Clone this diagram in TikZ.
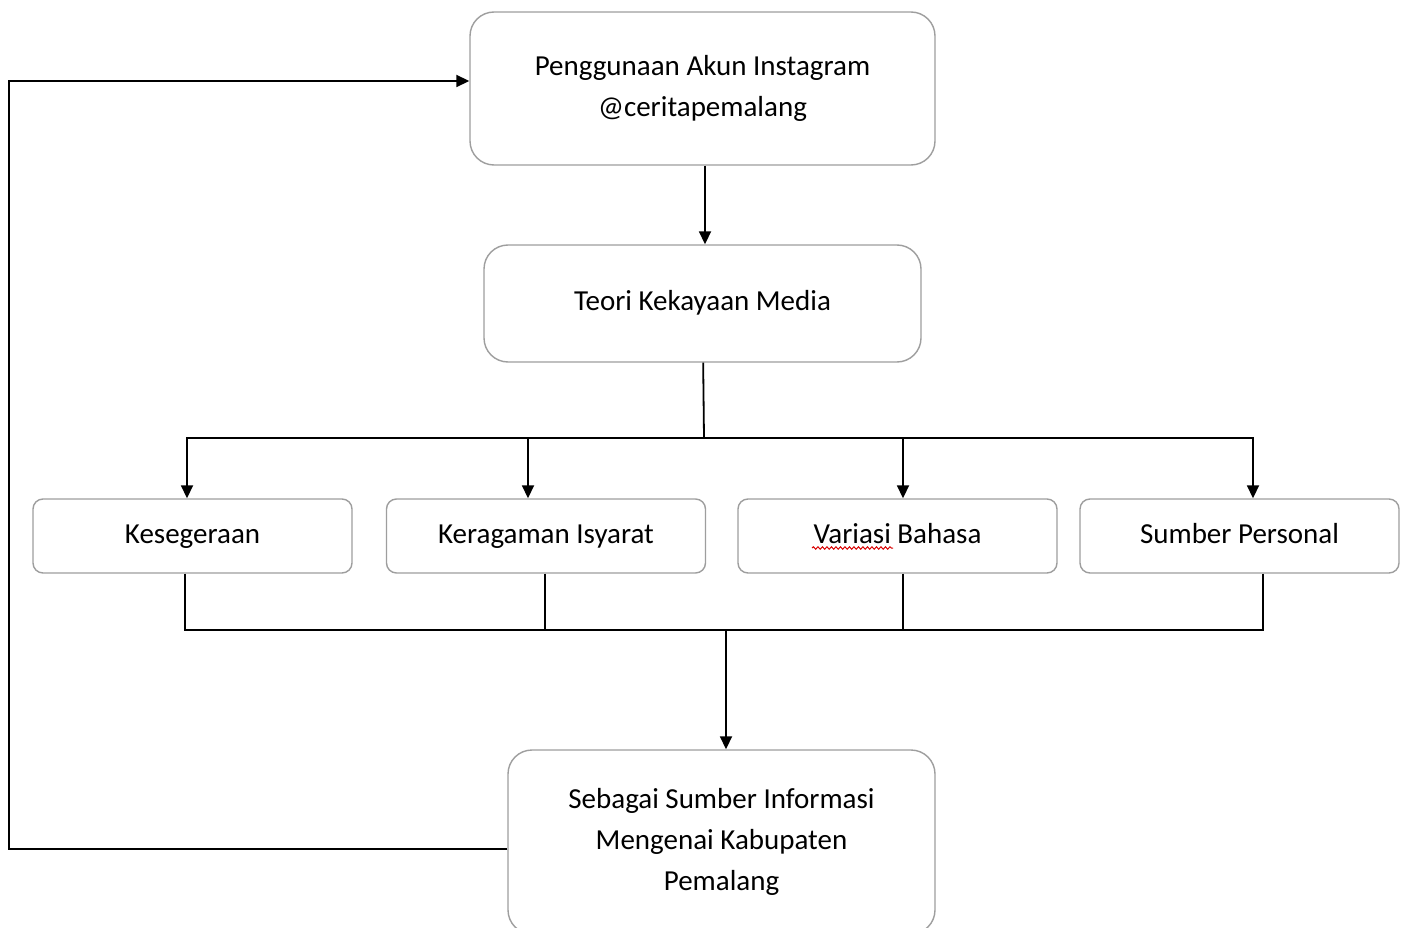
\documentclass[tikz,border=0pt]{standalone}
\usepackage{fontspec}
\setmainfont{Carlito}
\usetikzlibrary{positioning,arrows.meta,decorations.pathmorphing}

\begin{document}
\begin{tikzpicture}[x=1pt,y=-1pt,
    box/.style={draw=black!38,line width=1.4pt,rounded corners=24pt,fill=white,
      align=center,inner sep=0pt,font=\fontsize{29}{41}\selectfont},
    oneline/.style={box,text height=20pt,text depth=6pt},
    factor/.style={oneline,rounded corners=10pt,minimum width=319pt,minimum height=74pt},
    line/.style={line width=1.8pt},
    arr/.style={line,-{Triangle[length=13pt,width=12pt]}}]
  \useasboundingbox (0,0) rectangle (1406,928);
  \node[box,minimum width=465pt,minimum height=153pt](akun) at (702.5,88.5)
    {Penggunaan Akun Instagram\\@ceritapemalang};
  \node[oneline,minimum width=437pt,minimum height=117pt](teori) at (702.5,303.5)
    {Teori Kekayaan Media};
  \node[factor](segera) at (192.5,536){Kesegeraan};
  \node[factor](isyarat) at (546,536){Keragaman Isyarat};
  \node[factor](bahasa) at (897.5,536){Variasi Bahasa};
  \node[factor](personal) at (1239.5,536){Sumber Personal};
  \node[box,minimum width=427pt,minimum height=184pt](info) at (721.5,842)
    {Sebagai Sumber Informasi\\Mengenai Kabupaten\\Pemalang};
  \coordinate (split) at (704,438);
  \coordinate (join) at (726,630);
  \coordinate (corner) at (9,81);
  % spell-check mark under "Variasi"
  \draw[red!85!black,line width=1pt,decorate,
    decoration={snake,amplitude=1.2pt,segment length=4.5pt}] (812,548) -- (893,548);
  \draw[arr] ([xshift=2.5pt]akun.south) -- ([xshift=2.5pt]teori.north);
  \draw[line] (teori) -- (split);
  \draw[arr] (split) -| ([xshift=-5.5pt]segera.north);
  \draw[arr] (split) -| ([xshift=-18pt]isyarat.north);
  \draw[arr] (split) -| ([xshift=5.5pt]bahasa.north);
  \draw[arr] (split) -| ([xshift=13.5pt]personal.north);
  \draw[line] ([xshift=-7.5pt]segera.south) |- (join);
  \draw[line] ([xshift=-1pt]isyarat.south) |- (join);
  \draw[line] ([xshift=5.5pt]bahasa.south) |- (join);
  \draw[line] ([xshift=23.5pt]personal.south) |- (join);
  \draw[arr] (join) -- (join |- info.north);
  \draw[arr] ([yshift=-7pt]info.west) -| (corner) -- ([yshift=7.5pt]akun.west);
\end{tikzpicture}
\end{document}
